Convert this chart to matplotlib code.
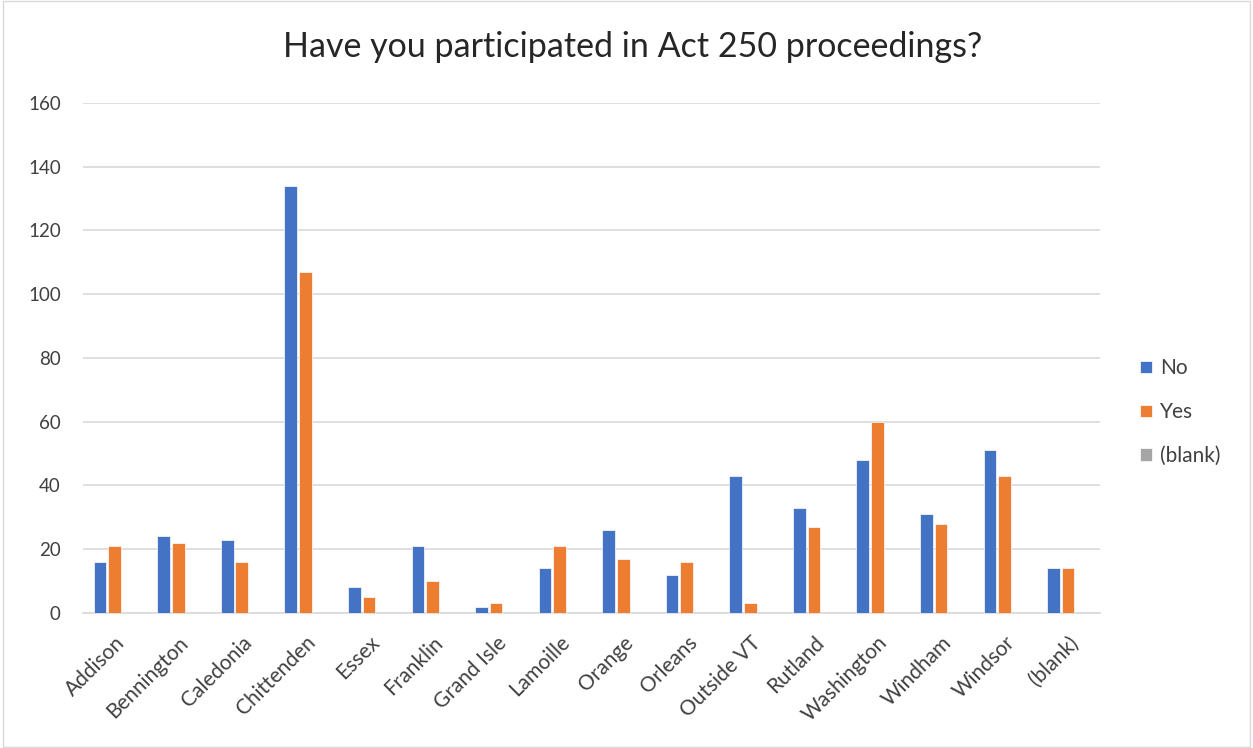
import numpy as np
import matplotlib.pyplot as plt
from matplotlib.patches import Rectangle

counties = ["Addison", "Bennington", "Caledonia", "Chittenden", "Essex", "Franklin",
            "Grand Isle", "Lamoille", "Orange", "Orleans", "Outside VT", "Rutland",
            "Washington", "Windham", "Windsor", "(blank)"]
no_vals = [16, 24, 23, 134, 8, 21, 2, 14, 26, 12, 43, 33, 48, 31, 51, 14]
yes_vals = [21, 22, 16, 107, 5, 10, 3, 21, 17, 16, 3, 27, 60, 28, 43, 14]
blank_vals = [0] * len(counties)

series = [("No", no_vals, "#4472c4"), ("Yes", yes_vals, "#ed7d31"), ("(blank)", blank_vals, "#a5a5a5")]

plt.rcParams['font.family'] = ['Lato', 'DejaVu Sans']

fig = plt.figure(figsize=(12.53, 7.48), dpi=100)
fig.patches.append(Rectangle((0.002, 0.002), 0.996, 0.996, transform=fig.transFigure,
                             fill=False, edgecolor="#d9d9d9", linewidth=1))
ax = fig.add_axes([0.0662, 0.1805, 0.8116, 0.6818])

x = np.arange(len(counties))
width = 0.2
step = 0.23
for i, (name, vals, color) in enumerate(series):
    ax.bar(x + (i - 1) * step, vals, width, color=color, label=name,
           edgecolor="white", linewidth=0.5, zorder=3)

ax.set_xlim(-0.5, len(counties) - 0.5)
ax.set_ylim(0, 160)
ax.set_yticks(range(0, 161, 20))
ax.yaxis.grid(True, color="#d9d9d9", linewidth=1.2, zorder=0)
for s in ["top", "right", "left"]:
    ax.spines[s].set_visible(False)
ax.spines["bottom"].set_color("#d9d9d9")
ax.spines["bottom"].set_linewidth(1.2)
ax.tick_params(axis="both", length=0, colors="#404040")
ax.tick_params(axis="y", pad=16, labelsize=13.5)
ax.tick_params(axis="x", pad=14, labelsize=15)
ax.set_xticks(x)
ax.set_xticklabels(counties, rotation=45, ha="right", rotation_mode="anchor")

fig.text(0.505, 0.937, "Have you participated in Act 250 proceedings?", ha="center",
         va="center", fontsize=24.5, color="#262626")

handles, labels = ax.get_legend_handles_labels()
fig.legend(handles, labels, loc="center left", bbox_to_anchor=(0.895, 0.449), frameon=False,
           handlelength=0.55, handleheight=0.55, handletextpad=0.4, labelspacing=1.15,
           fontsize=15, labelcolor="#404040")

fig.savefig("out.png", dpi=100)
